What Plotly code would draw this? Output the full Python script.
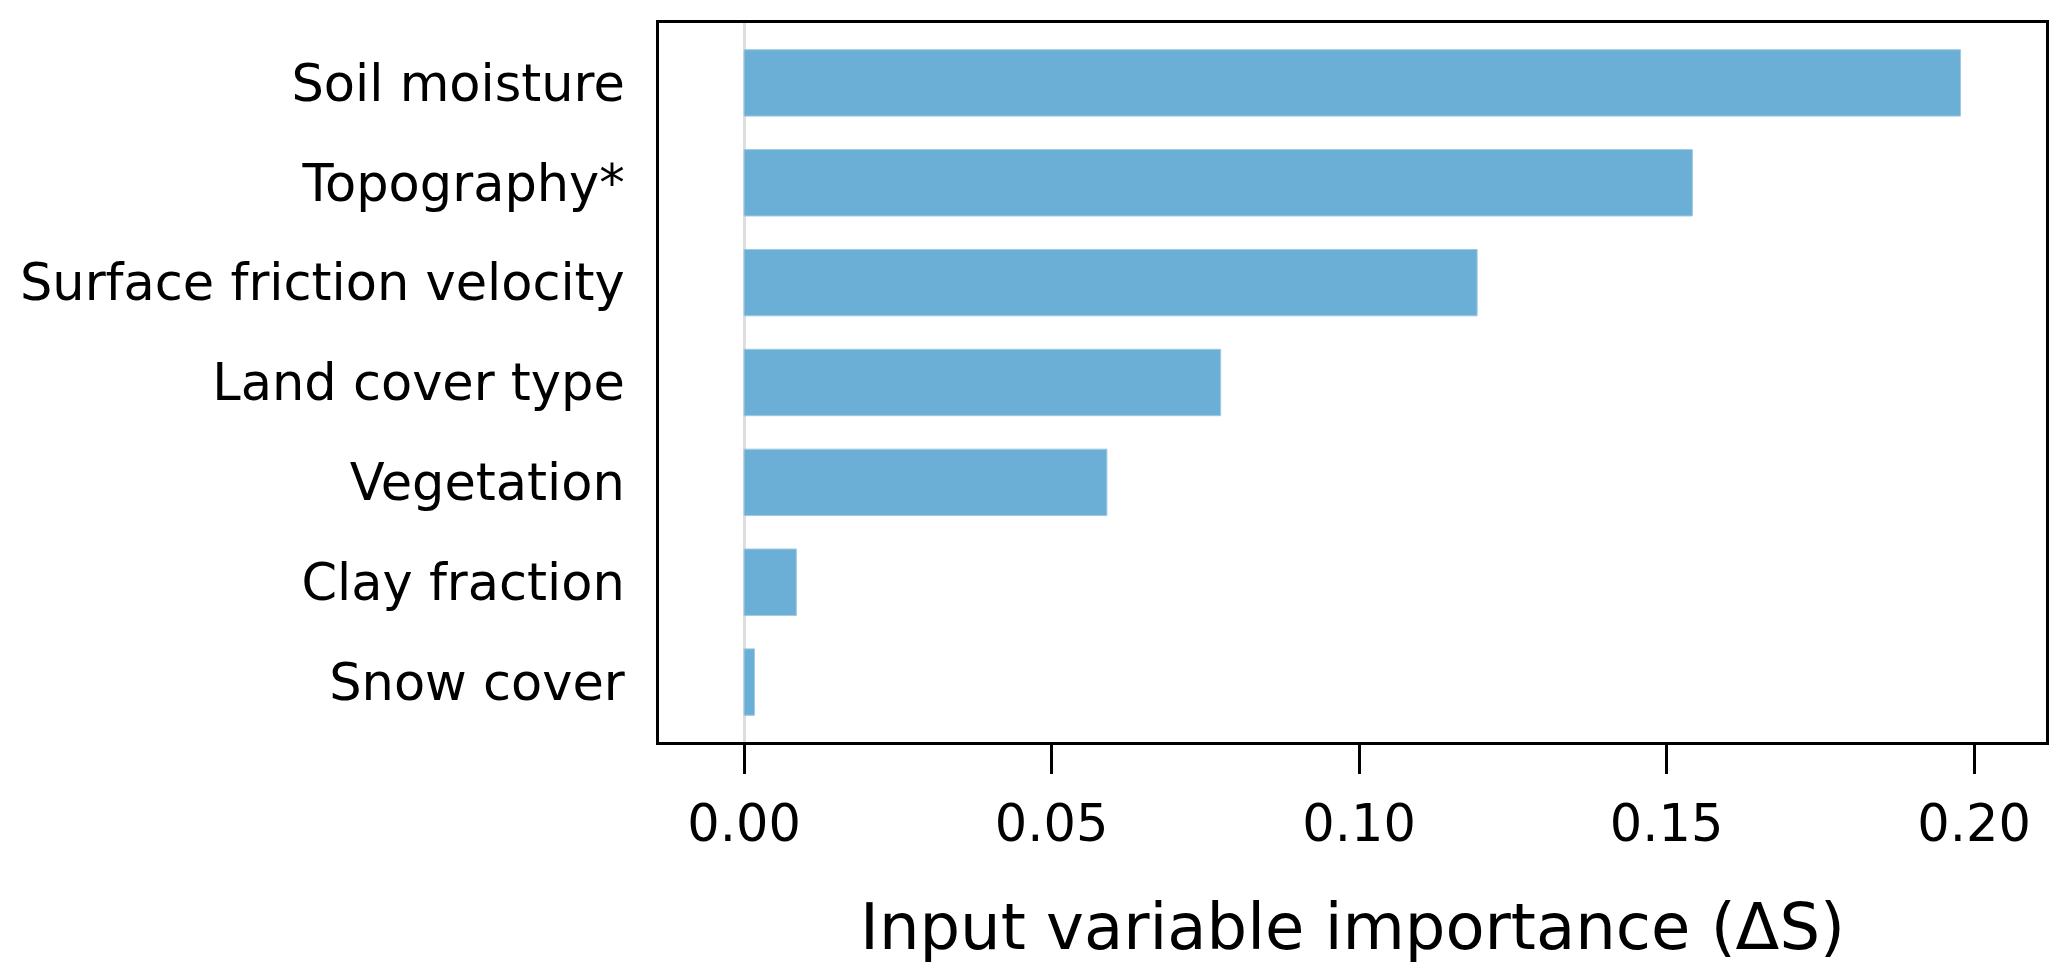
import plotly.graph_objects as go

categories = ["Soil moisture", "Topography*", "Surface friction velocity",
              "Land cover type", "Vegetation", "Clay fraction", "Snow cover"]
importance = [0.1978, 0.1542, 0.1192, 0.0775, 0.0590, 0.0085, 0.0017]
tick_vals = [0.0, 0.05, 0.10, 0.15, 0.20]
tick_text = ["0.00", "0.05", "0.10", "0.15", "0.20"]

fig = go.Figure()
fig.add_trace(go.Bar(
    x=importance, y=categories, orientation="h",
    marker=dict(color="#6baed6", line=dict(color="#9ecae1", width=1)),
    width=0.665,
))

font = "DejaVu Sans"
fig.update_layout(
    width=2067, height=980,
    margin=dict(l=642, r=29, t=12, b=246),
    paper_bgcolor="white", plot_bgcolor="white",
    showlegend=False,
    font=dict(family=font, color="black"),
    xaxis=dict(
        range=[-0.01383, 0.2117],
        tickvals=tick_vals, ticktext=tick_text,
        tickfont=dict(size=51, family=font, color="black"),
        ticks="outside", ticklen=29, tickwidth=3, tickcolor="black",
        ticklabelstandoff=6,
        showgrid=False,
        zeroline=True, zerolinecolor="#dedede", zerolinewidth=3,
        showline=True, linecolor="black", linewidth=3, mirror=True,
        title=dict(text="Input variable importance (ΔS)",
                   font=dict(size=64, family=font, color="black"), standoff=52),
    ),
    yaxis=dict(
        categoryorder="array", categoryarray=categories,
        range=[6.6, -0.6],
        tickfont=dict(size=51, family=font, color="black"),
        ticks="", ticklabelstandoff=21,
        showgrid=False, zeroline=False,
        showline=True, linecolor="black", linewidth=3, mirror=True,
    ),
)

fig.write_html("out.html")
